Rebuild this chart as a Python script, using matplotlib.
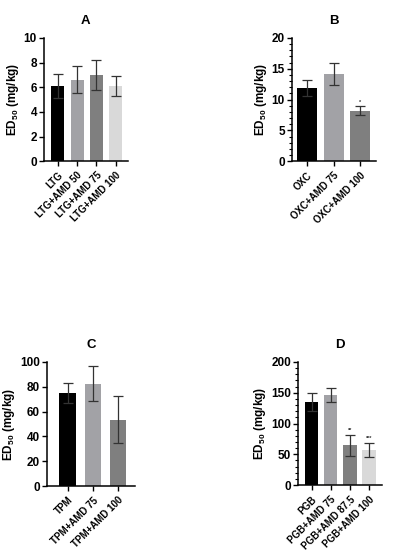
import matplotlib
matplotlib.use("Agg")
import matplotlib.pyplot as plt
import matplotlib.transforms as mtrans
from matplotlib.ticker import MultipleLocator

plt.rcParams['font.family'] = ['Liberation Sans', 'DejaVu Sans']
plt.rcParams['font.weight'] = 'bold'
plt.rcParams['mathtext.fontset'] = 'custom'
plt.rcParams['mathtext.rm'] = 'Liberation Sans:bold'
plt.rcParams['mathtext.bf'] = 'Liberation Sans:bold'

# panel A
a_labels = ['LTG', 'LTG+AMD 50', 'LTG+AMD 75', 'LTG+AMD 100']
a_vals = [6.1, 6.6, 7.0, 6.1]
a_err = [0.95, 1.1, 1.25, 0.8]
a_stars = ['', '', '', '']

# panel B
b_labels = ['OXC', 'OXC+AMD 75', 'OXC+AMD 100']
b_vals = [11.9, 14.2, 8.2]
b_err = [1.25, 1.8, 0.7]
b_stars = ['', '', '*']

# panel C
c_labels = ['TPM', 'TPM+AMD 75', 'TPM+AMD 100']
c_vals = [75.0, 82.5, 53.5]
c_err = [8.0, 14.0, 19.0]
c_stars = ['', '', '']

# panel D
d_labels = ['PGB', 'PGB+AMD 75', 'PGB+AMD 87.5', 'PGB+AMD 100']
d_vals = [135, 146, 65, 57]
d_err = [15, 11, 17, 12]
d_stars = ['', '', '**', '***']

cols4 = ['#000000', '#a2a2a6', '#7f7f7f', '#d9d9d9']

fig = plt.figure(figsize=(3.95, 5.5), dpi=100)
shift = mtrans.ScaledTranslation(3 / 100, 0, fig.dpi_scale_trans)


def panel(rect, title, labels, vals, err, stars, ymax, major, minor, xlim, width, star_off):
    ax = fig.add_axes(rect)
    x = list(range(len(vals)))
    ax.bar(x, vals, width=width, color=cols4[:len(vals)], zorder=2)
    ax.errorbar(x, vals, yerr=err, fmt='none', ecolor='#333333',
                elinewidth=0.9, capsize=3.5, capthick=0.9, zorder=3)
    for xi, v, e, s in zip(x, vals, err, stars):
        if s:
            ax.text(xi, v + e + star_off, s, ha='center', va='bottom',
                    fontsize=4, color='#333333')
    ax.set_xlim(*xlim)
    ax.set_ylim(0, ymax)
    ax.yaxis.set_major_locator(MultipleLocator(major))
    if minor:
        ax.yaxis.set_minor_locator(MultipleLocator(minor))
    ax.set_xticks(x)
    ax.set_xticklabels(labels, rotation=45, ha='right', rotation_mode='anchor',
                       fontsize=7, fontweight='bold')
    for lab in ax.get_xticklabels():
        lab.set_transform(lab.get_transform() + shift)
    for lab in ax.get_yticklabels():
        lab.set_fontsize(8.5)
        lab.set_fontweight('bold')
    ax.tick_params(axis='both', direction='out', width=1.0, length=3.5, pad=1.5)
    ax.tick_params(axis='x', pad=3)
    ax.tick_params(axis='y', which='minor', length=2, width=0.8)
    ax.spines['top'].set_visible(False)
    ax.spines['right'].set_visible(False)
    ax.spines['left'].set_linewidth(1.1)
    ax.spines['bottom'].set_linewidth(1.1)
    ax.set_ylabel('ED$_{50}$ (mg/kg)', fontsize=8.5, fontweight='bold', labelpad=2)
    ax.set_title(title, fontsize=9.5, fontweight='bold', pad=10)
    return ax


panel([0.111, 0.707, 0.213, 0.224], 'A', a_labels, a_vals, a_err, a_stars,
      10, 2, None, (-0.72, 3.63), 0.68, 0.1)
panel([0.739, 0.707, 0.213, 0.224], 'B', b_labels, b_vals, b_err, b_stars,
      20, 5, 1, (-0.57, 2.6), 0.75, 0.2)
panel([0.119, 0.116, 0.223, 0.226], 'C', c_labels, c_vals, c_err, c_stars,
      100, 20, None, (-0.82, 2.67), 0.65, 1)
panel([0.754, 0.118, 0.213, 0.224], 'D', d_labels, d_vals, d_err, d_stars,
      200, 50, 10, (-0.72, 3.68), 0.7, 2)

fig.savefig('out.png', dpi=100)
